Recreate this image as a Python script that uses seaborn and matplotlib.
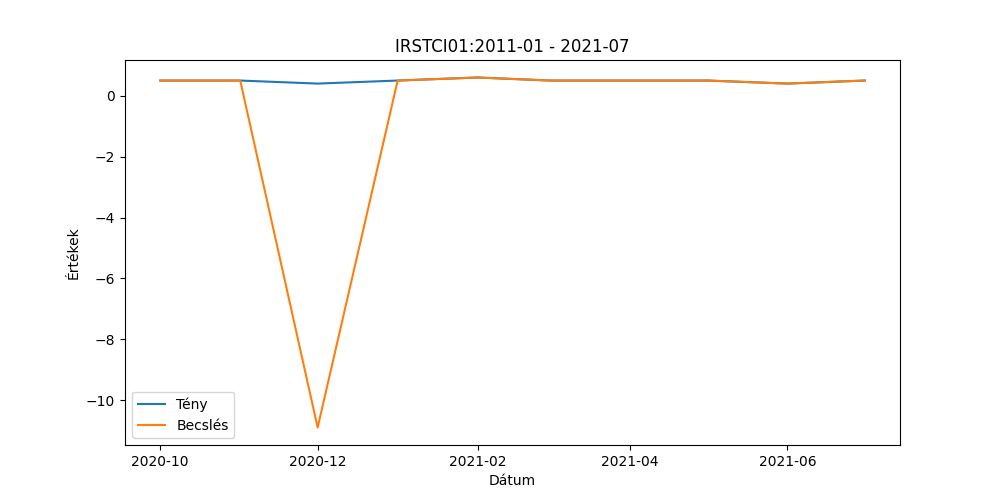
import seaborn as sns
import matplotlib.pyplot as plt
import matplotlib.dates as mdates
import pandas as pd

dates = ["2020-10-01", "2020-11-01", "2020-12-01", "2021-01-01", "2021-02-01",
         "2021-03-01", "2021-04-01", "2021-05-01", "2021-06-01", "2021-07-01"]
teny = [0.5, 0.5, 0.4, 0.5, 0.6, 0.5, 0.5, 0.5, 0.4, 0.5]
becsles = [0.5, 0.5, -10.9, 0.5, 0.6, 0.5, 0.5, 0.5, 0.4, 0.5]

df = pd.DataFrame({"Dátum": pd.to_datetime(dates), "Tény": teny, "Becslés": becsles})

fig, ax = plt.subplots(figsize=(10, 5), dpi=100)
sns.lineplot(data=df, x="Dátum", y="Tény", label="Tény", ax=ax)
sns.lineplot(data=df, x="Dátum", y="Becslés", label="Becslés", ax=ax)
ax.xaxis.set_major_locator(mdates.MonthLocator(bymonth=[2, 4, 6, 8, 10, 12]))
ax.xaxis.set_major_formatter(mdates.DateFormatter("%Y-%m"))
ax.set_title("IRSTCI01:2011-01 - 2021-07")
ax.set_xlabel("Dátum")
ax.set_ylabel("Értékek")
ax.legend(loc="lower left")
fig.savefig("out.png")
